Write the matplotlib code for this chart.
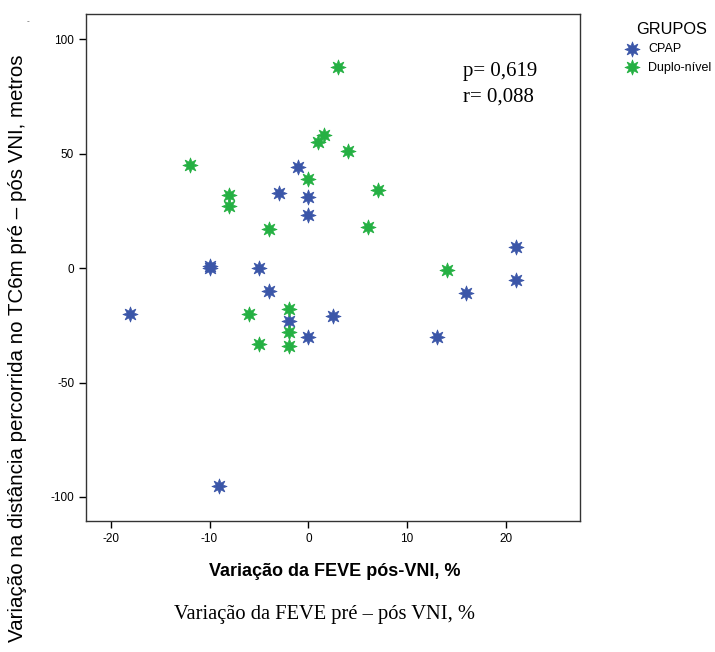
import numpy as np
import matplotlib
matplotlib.use('Agg')
import matplotlib.pyplot as plt

# dados
cpap_x = [-18, -10, -10, -5, -4, -3, -1, 0, 0, -2, 0, 2.5, -9, 13, 16, 21, 21]
cpap_y = [-20, 1, 0, 0, -10, 33, 44, 31, 23, -23, -30, -21, -95, -30, -11, -5, 9]
duplo_x = [3, 1.6, 1, 4, -12, 0, 7, -8, -8, 6, -4, 14, -6, -2, -2, -2, -5]
duplo_y = [88, 58, 55, 51, 45, 39, 34, 32, 27, 18, 17, -1, -20, -18, -28, -34, -33]
x_ticks = [-20, -10, 0, 10, 20]
y_ticks = [-100, -50, 0, 50, 100]

plt.rcParams['font.family'] = ['Liberation Sans', 'DejaVu Sans']
plt.rcParams['axes.unicode_minus'] = False

fig = plt.figure(figsize=(7.15, 6.52), dpi=100)
ax = fig.add_axes([0.1203, 0.2009, 0.691, 0.7776])

star = (8, 1, 0)
ax.scatter(cpap_x, cpap_y, marker=star, s=120, color='#3b56a8', linewidths=0.5,
           edgecolors='#3b56a8', label='CPAP', zorder=3)
ax.scatter(duplo_x, duplo_y, marker=star, s=120, color='#25b043', linewidths=0.5,
           edgecolors='#25b043', label='Duplo-nível', zorder=3)

ax.set_xlim(-22.5, 27.5)
ax.set_ylim(-110.5, 111)
ax.set_xticks(x_ticks)
ax.set_yticks(y_ticks)
ax.tick_params(labelsize=8.5, length=5, width=1, direction='out')
for s in ax.spines.values():
    s.set_color('#333333')
    s.set_linewidth(1)

ax.text(0.763, 0.878, 'p= 0,619', transform=ax.transAxes, family='Liberation Serif', fontsize=15)
ax.text(0.763, 0.828, 'r= 0,088', transform=ax.transAxes, family='Liberation Serif', fontsize=15)

# legenda sem título; o título vai como texto separado
leg = ax.legend(loc='upper left', bbox_to_anchor=(1.07, 0.953),
                frameon=False, fontsize=9, handletextpad=0.28,
                borderaxespad=0, labelspacing=0.55, markerscale=1.0)
fig.text(672 / 715, 1 - 30 / 652, 'GRUPOS', ha='center', va='center', fontsize=11.8)

fig.text(335 / 715, 1 - 571 / 652, 'Variação da FEVE pós-VNI, %', ha='center', va='center',
         fontsize=13, fontweight='bold')
fig.text(324 / 715, 1 - 614 / 652, 'Variação da FEVE pré – pós VNI, %', ha='center', va='center',
         family='Liberation Serif', fontsize=14.8)
fig.text(18 / 715, 1 - 348 / 652, 'Variação na distância percorrida no TC6m pré – pós VNI, metros',
         rotation=90, ha='center', va='center', fontsize=14.8)
fig.text(28 / 715, 1 - 22 / 652, '-', ha='center', va='center', fontsize=6, color='#555555')

fig.savefig('out.png', dpi=100)
